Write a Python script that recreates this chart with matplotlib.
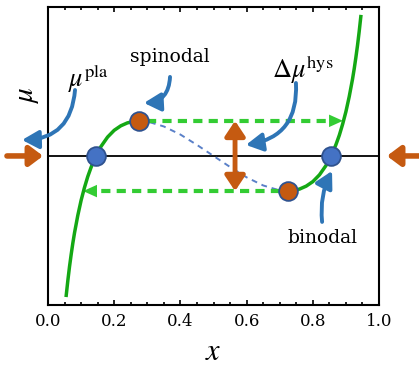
import matplotlib
matplotlib.use("Agg")
import matplotlib.pyplot as plt
from matplotlib.ticker import MultipleLocator

plt.rcParams['font.family'] = ['DejaVu Serif']
plt.rcParams['mathtext.fontset'] = 'stix'

# chemical potential curve
x_left = [0.055, 0.06, 0.065, 0.07, 0.075, 0.08, 0.09, 0.10, 0.11, 0.12, 0.13, 0.14,
          0.16, 0.18, 0.20, 0.22, 0.24, 0.26, 0.276]
mu_left = [-0.619, -0.552, -0.491, -0.437, -0.387, -0.342, -0.264, -0.197, -0.141, -0.092,
           -0.051, -0.015, 0.042, 0.084, 0.114, 0.134, 0.147, 0.154, 0.156]
x_mid = [0.276, 0.30, 0.35, 0.40, 0.45, 0.50, 0.55, 0.60, 0.65, 0.70, 0.724]
mu_mid = [0.156, 0.153, 0.131, 0.095, 0.049, 0.0, -0.049, -0.095, -0.131, -0.153, -0.156]
x_right = [0.724, 0.74, 0.76, 0.78, 0.80, 0.82, 0.84, 0.86, 0.87, 0.88, 0.89, 0.90,
           0.91, 0.92, 0.925, 0.93, 0.935, 0.94, 0.945]
mu_right = [-0.156, -0.154, -0.147, -0.134, -0.114, -0.084, -0.042, 0.015, 0.051, 0.092,
            0.141, 0.197, 0.264, 0.342, 0.387, 0.437, 0.491, 0.552, 0.619]

binodal_x = [0.145, 0.855]
binodal_mu = [0.0, 0.0]
spinodal_x = [0.276, 0.724]
spinodal_mu = [0.156, -0.156]

# hysteresis jumps (start, end)
jump_up_x = [0.30, 0.855]
jump_down_x = [0.70, 0.145]
hys_x = 0.565

green = '#14a814'
green_light = '#33cc33'
orange = '#c55a11'
blue = '#4472c4'
blue_edge = '#2f528f'
blue_arrow = '#2e75b6'

fig = plt.figure(figsize=(4.19, 3.68), dpi=100)
ax = fig.add_axes([0.1146, 0.1712, 0.790, 0.810])

ax.axhline(0, color='black', lw=1.3, zorder=1)

ax.plot(x_left, mu_left, color=green, lw=2.5, zorder=3)
ax.plot(x_right, mu_right, color=green, lw=2.5, zorder=3)
ax.plot(x_mid, mu_mid, color='#5a80c8', lw=1.4, ls=(0, (3, 2.5)), zorder=2)

# green dashed jumps with arrow heads
ax.plot(jump_up_x, [spinodal_mu[0]] * 2, color=green_light, lw=3, ls=(0, (2.2, 1.5)), zorder=2)
ax.plot(jump_down_x, [spinodal_mu[1]] * 2, color=green_light, lw=3, ls=(0, (2.2, 1.5)), zorder=2)
ax.annotate('', xy=(0.891, spinodal_mu[0]), xytext=(0.85, spinodal_mu[0]),
            arrowprops=dict(arrowstyle='-|>,head_length=1.0,head_width=0.45', color=green_light,
                            lw=0, shrinkA=0, shrinkB=0, mutation_scale=10), zorder=2)
ax.annotate('', xy=(0.106, spinodal_mu[1]), xytext=(0.15, spinodal_mu[1]),
            arrowprops=dict(arrowstyle='-|>,head_length=1.0,head_width=0.45', color=green_light,
                            lw=0, shrinkA=0, shrinkB=0, mutation_scale=10), zorder=2)

# orange double arrow (hysteresis)
ax.annotate('', xy=(hys_x, spinodal_mu[0]), xytext=(hys_x, spinodal_mu[1]),
            arrowprops=dict(arrowstyle='<|-|>,head_length=0.9,head_width=0.6', color=orange,
                            lw=3.5, shrinkA=0, shrinkB=0, mutation_scale=10), zorder=4)

# orange arrows outside the frame
ax.annotate('', xy=(-0.015, 0), xytext=(-0.124, 0), annotation_clip=False,
            arrowprops=dict(arrowstyle='-|>,head_length=0.8,head_width=0.6', color=orange,
                            lw=4, shrinkA=0, shrinkB=0, mutation_scale=10))
ax.annotate('', xy=(1.024, 0), xytext=(1.125, 0), annotation_clip=False,
            arrowprops=dict(arrowstyle='-|>,head_length=0.8,head_width=0.6', color=orange,
                            lw=4, shrinkA=0, shrinkB=0, mutation_scale=10))

# markers
ax.plot(binodal_x, binodal_mu, 'o', ms=13.5, mfc=blue, mec=blue_edge, mew=1.3, zorder=5)
ax.plot(spinodal_x, spinodal_mu, 'o', ms=13.5, mfc=orange, mec=blue_edge, mew=1.3, zorder=5)

# blue curly pointers
ptr = dict(arrowstyle='-|>,head_length=1.0,head_width=0.55', color=blue_arrow, lw=2.8,
           shrinkA=0, shrinkB=0, mutation_scale=10)
ax.annotate('', xy=(-0.0785, 0.071), xytext=(0.0816, 0.293), annotation_clip=False,
            arrowprops=dict(ptr, connectionstyle='arc3,rad=-0.45'))
ax.annotate('', xy=(0.290, 0.2355), xytext=(0.3686, 0.351),
            arrowprops=dict(ptr, connectionstyle='arc3,rad=-0.45'))
ax.annotate('', xy=(0.598, 0.049), xytext=(0.749, 0.324),
            arrowprops=dict(ptr, connectionstyle='arc3,rad=-0.45'))
ax.annotate('', xy=(0.858, -0.0666), xytext=(0.828, -0.293),
            arrowprops=dict(ptr, connectionstyle='arc3,rad=-0.15'))

# labels
ax.text(0.3686, 0.440, 'spinodal', fontsize=13.5, ha='center', va='center')
ax.text(0.828, -0.364, 'binodal', fontsize=13.5, ha='center', va='center')
ax.text(0.121, 0.342, r'$\mu^{\rm pla}$', fontsize=19, ha='center', va='center')
ax.text(0.770, 0.385, r'$\Delta\mu^{\rm hys}$', fontsize=19, ha='center', va='center')
ax.text(-0.063, 0.271, r'$\mu$', fontsize=21, ha='center', va='center', rotation=90,
        transform=ax.transData, clip_on=False)

ax.set_xlabel(r'$x$', fontsize=22, labelpad=4)

ax.set_xlim(0, 1)
ax.set_ylim(-0.662, 0.662)
ax.set_yticks([])
ax.xaxis.set_major_locator(MultipleLocator(0.2))
ax.xaxis.set_minor_locator(MultipleLocator(0.05))
ax.tick_params(axis='x', which='both', direction='in', top=True, labelsize=12, pad=6)
ax.tick_params(axis='x', which='major', length=3.5, width=1.2)
ax.tick_params(axis='x', which='minor', length=2.5, width=1.2)
for s in ax.spines.values():
    s.set_linewidth(1.5)

fig.savefig('out.png', dpi=100)
